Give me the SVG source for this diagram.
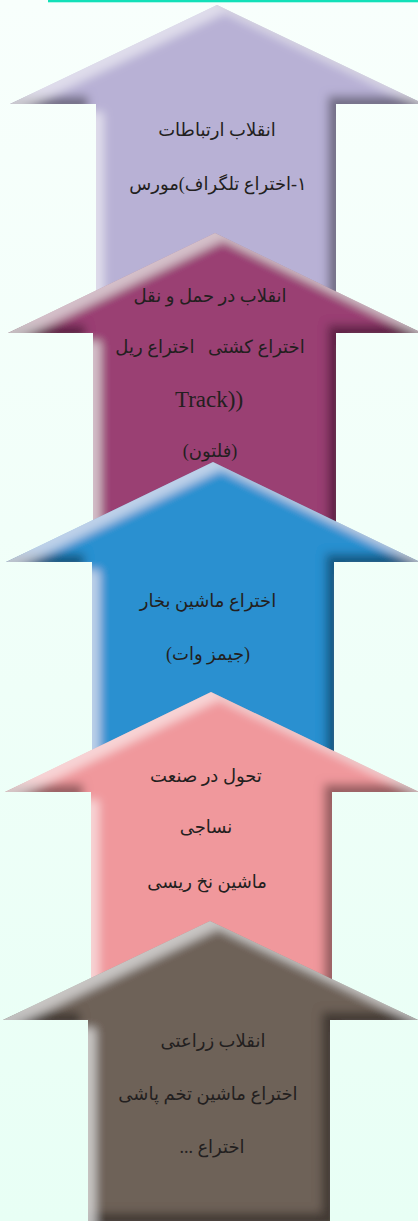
<svg xmlns="http://www.w3.org/2000/svg" width="418" height="1221" viewBox="0 0 418 1221">
<defs>
<linearGradient id="bg" x1="0" y1="0" x2="0" y2="1">
<stop offset="0" stop-color="#f8fffc"/>
<stop offset="1" stop-color="#e8fff5"/>
</linearGradient>
<filter id="bv" x="-10%" y="-10%" width="120%" height="120%">
<feGaussianBlur in="SourceAlpha" stdDeviation="5" result="blur"/>
<feOffset in="blur" dx="-8" dy="-8" result="o1"/>
<feComposite in="SourceAlpha" in2="o1" operator="out" result="e1"/>
<feFlood flood-color="#000" flood-opacity="0.65"/>
<feComposite in2="e1" operator="in" result="dark"/>
<feOffset in="blur" dx="8" dy="8" result="o2"/>
<feComposite in="SourceAlpha" in2="o2" operator="out" result="e2"/>
<feFlood flood-color="#fff" flood-opacity="0.5"/>
<feComposite in2="e2" operator="in" result="light"/>
<feMerge><feMergeNode in="SourceGraphic"/><feMergeNode in="dark"/><feMergeNode in="light"/></feMerge>
</filter>
</defs>
<style>
.ar{font-family:'Liberation Serif','DejaVu Sans',serif;font-size:18px;fill:#231f20;text-anchor:middle;direction:rtl}
.en{font-family:'Liberation Serif',serif;font-size:23px;fill:#231f20;text-anchor:middle}
</style>
<rect width="418" height="1221" fill="url(#bg)"/>
<rect x="48" y="0" width="370" height="2.3" fill="#12e0b8"/>
<g id="arrow1">
<polygon points="217,5 10,104 96,104 96,332 336,332 336,104 424,104" fill="#b8b1d5" filter="url(#bv)"/>
<text class="ar" x="217" y="136">انقلاب ارتباطات</text>
<text class="ar" x="218" y="190">۱-اختراع تلگراف&#x200E;(&#x200E;مورس</text>
</g>
<g id="arrow2">
<polygon points="215,233 8,333 93,333 93,561 336,561 336,333 422,333" fill="#9a3f73" filter="url(#bv)"/>
<text class="ar" x="210" y="302">انقلاب در حمل و نقل</text>
<text class="ar" x="210" y="353" xml:space="preserve">اختراع کشتی   اختراع ریل</text>
<text class="en" x="209" y="407">Track))</text>
<text class="ar" x="210" y="457">(فلتون)</text>
</g>
<g id="arrow3">
<polygon points="213,462 6,562 92,562 92,791 334,791 334,562 420,562" fill="#2990d0" filter="url(#bv)"/>
<text class="ar" x="208" y="607">اختراع ماشین بخار</text>
<text class="ar" x="208" y="660">(جیمز وات)</text>
</g>
<g id="arrow4">
<polygon points="211,692 5,792 91,792 91,1019 332,1019 332,792 419,792" fill="#f0989c" filter="url(#bv)"/>
<text class="ar" x="206" y="782">تحول در صنعت</text>
<text class="ar" x="206" y="833">نساجی</text>
<text class="ar" x="207" y="888">ماشین نخ ریسی</text>
</g>
<g id="arrow5">
<polygon points="210,921 3,1020 88,1020 88,1221 330,1221 330,1020 418,1020" fill="#6e6259" filter="url(#bv)"/>
<text class="ar" x="213" y="1047">انقلاب زراعتی</text>
<text class="ar" x="208" y="1100">اختراع ماشین تخم پاشی</text>
<text class="ar" x="212" y="1153">اختراع ...</text>
</g>
<g id="connectors"/>
</svg>
